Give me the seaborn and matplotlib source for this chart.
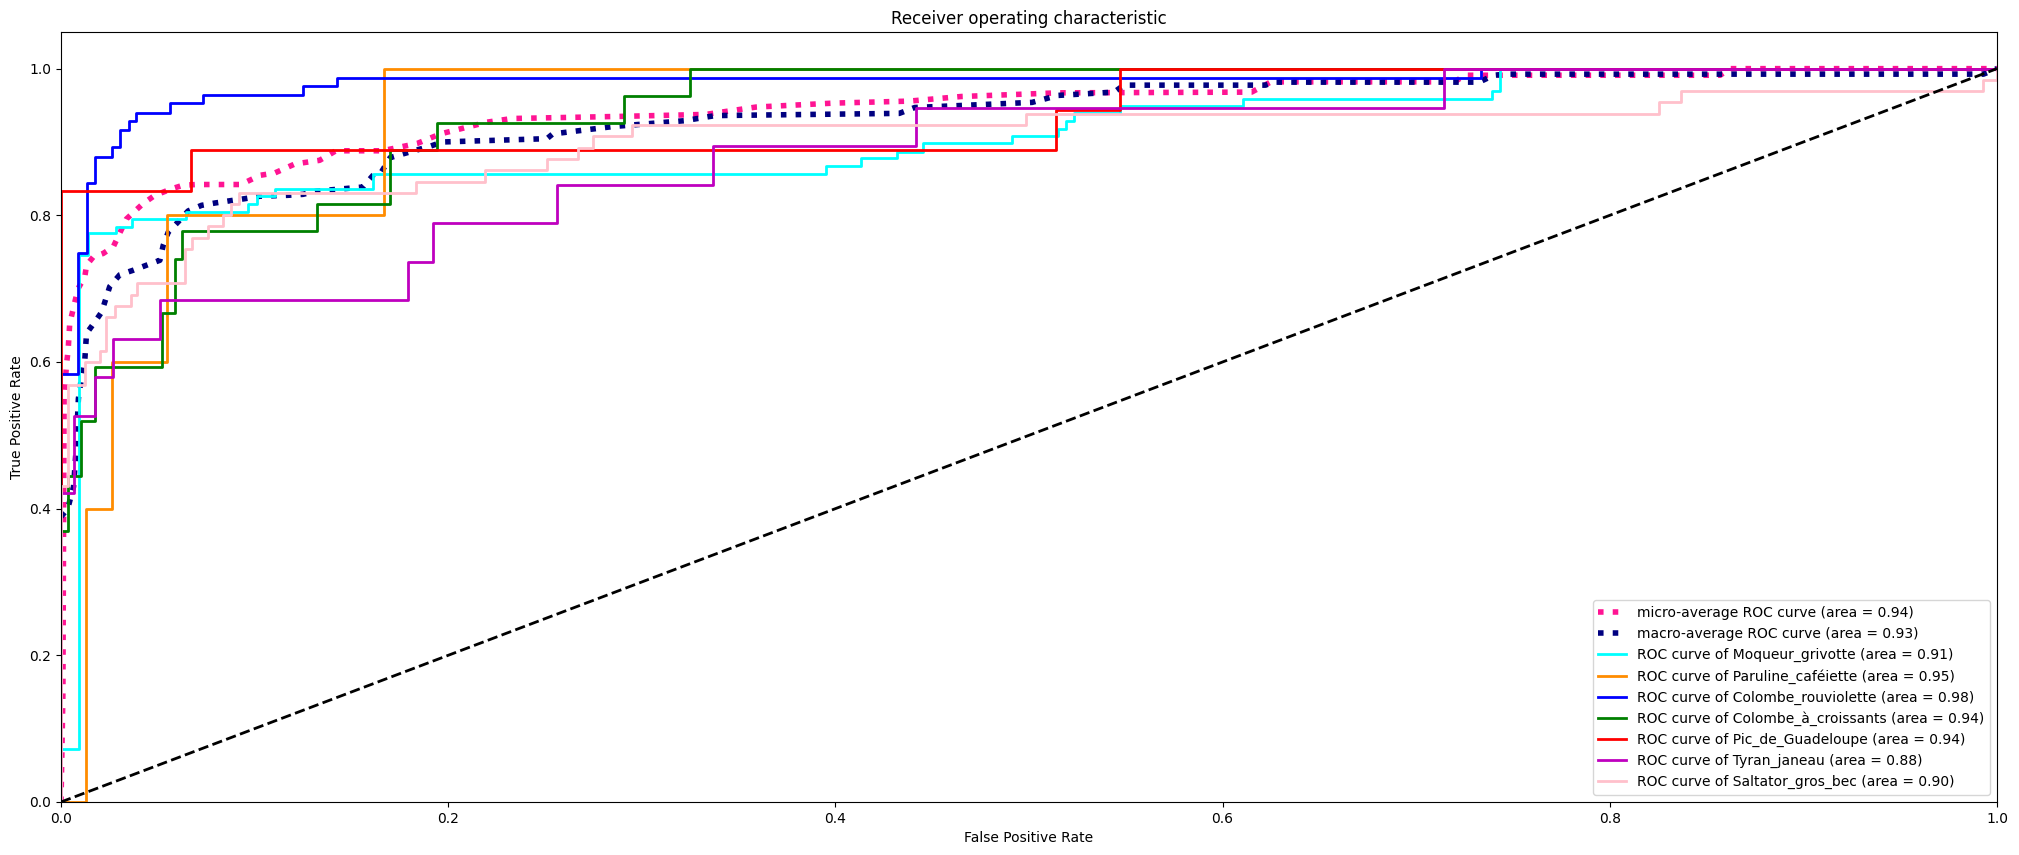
import matplotlib
matplotlib.use("Agg")
import matplotlib.pyplot as plt
import seaborn as sns

# averaged curves
micro_fpr = [0, 0.0005, 0.001, 0.0016, 0.0029, 0.0037, 0.0045, 0.0088, 0.0123, 0.0132, 0.0166,
             0.0218, 0.027, 0.0338, 0.0424, 0.0484, 0.057, 0.063, 0.070, 0.093, 0.1027, 0.1104,
             0.1208, 0.1336, 0.142, 0.166, 0.184, 0.196, 0.22, 0.233, 0.291, 0.333, 0.359, 0.399,
             0.438, 0.465, 0.515, 0.615, 0.625, 0.72, 0.725, 0.857, 0.862, 1.0]
micro_tpr = [0, 0.07, 0.15, 0.55, 0.598, 0.616, 0.652, 0.700, 0.716, 0.732, 0.743,
             0.748, 0.757, 0.795, 0.816, 0.827, 0.836, 0.841, 0.842, 0.842, 0.8545, 0.8577,
             0.870, 0.875, 0.888, 0.888, 0.898, 0.911, 0.927, 0.932, 0.935, 0.9376, 0.9476, 0.953,
             0.9557, 0.962, 0.967, 0.968, 0.982, 0.982, 0.991, 0.991, 1.0, 1.0]

macro_fpr = [0, 0.0035, 0.0065, 0.0078, 0.009, 0.0104, 0.0123, 0.0132, 0.0175, 0.021, 0.0252,
             0.0304, 0.0372, 0.0442, 0.0511, 0.0528, 0.0554, 0.0605, 0.0657, 0.0726, 0.0796,
             0.0864, 0.095, 0.1027, 0.1173, 0.125, 0.132, 0.156, 0.162, 0.1655, 0.17, 0.177,
             0.1905, 0.197, 0.251, 0.254, 0.285, 0.322, 0.338, 0.433, 0.441, 0.5016, 0.515,
             0.544, 0.549, 0.622, 0.627, 0.7325, 0.74, 0.747, 0.993, 1.0]
macro_tpr = [0.389, 0.40, 0.43, 0.48, 0.55, 0.575, 0.6024, 0.639, 0.6546, 0.668, 0.703,
             0.719, 0.725, 0.732, 0.7387, 0.759, 0.777, 0.791, 0.806, 0.8136, 0.8168,
             0.8195, 0.8227, 0.826, 0.8273, 0.8286, 0.833, 0.8386, 0.857, 0.859, 0.8786, 0.884,
             0.894, 0.900, 0.9045, 0.911, 0.921, 0.929, 0.936, 0.939, 0.947, 0.954, 0.9635,
             0.968, 0.9775, 0.9775, 0.9816, 0.9816, 0.991, 0.9925, 0.9925, 1.0]

# per-class step curves: tpr value holds from each fpr until the next one
class_names = ["Moqueur_grivotte", "Paruline_caféiette", "Colombe_rouviolette",
               "Colombe_à_croissants", "Pic_de_Guadeloupe", "Tyran_janeau", "Saltator_gros_bec"]
class_auc = [0.91, 0.95, 0.98, 0.94, 0.94, 0.88, 0.90]
class_colors = ["aqua", "darkorange", "blue", "green", "red", "m", "pink"]

fpr_grivotte = [0, 0, 0.0093, 0.014, 0.0283, 0.0369, 0.0648, 0.0966, 0.101, 0.1104, 0.161, 0.395,
                0.413, 0.432, 0.445, 0.491, 0.515, 0.519, 0.523, 0.547, 0.6105, 0.739, 0.7435, 1.0]
tpr_grivotte = [0, 0.072, 0.7456, 0.776, 0.784, 0.7955, 0.8045, 0.816, 0.826, 0.8354, 0.857, 0.867,
                0.878, 0.886, 0.898, 0.908, 0.918, 0.928, 0.939, 0.9485, 0.959, 0.969, 1.0, 1.0]

fpr_cafeiette = [0, 0.0131, 0.0261, 0.0548, 0.167, 1.0]
tpr_cafeiette = [0, 0.4, 0.6, 0.8, 1.0, 1.0]

fpr_rouviolette = [0, 0, 0.0088, 0.0132, 0.0177, 0.0261, 0.0306, 0.0349, 0.039, 0.0562, 0.0736,
                   0.125, 0.1426, 0.7333, 1.0]
tpr_rouviolette = [0, 0.584, 0.749, 0.844, 0.880, 0.8926, 0.9158, 0.928, 0.940, 0.9526, 0.9635,
                   0.9757, 0.9876, 1.0, 1.0]

fpr_croissants = [0, 0, 0.0035, 0.0101, 0.0178, 0.0522, 0.0588, 0.0625, 0.132, 0.170, 0.194,
                  0.291, 0.325, 1.0]
tpr_croissants = [0, 0.370, 0.444, 0.519, 0.593, 0.667, 0.741, 0.778, 0.815, 0.889, 0.926,
                  0.963, 1.0, 1.0]

fpr_pic = [0, 0, 0.0674, 0.514, 0.547, 1.0]
tpr_pic = [0, 0.833, 0.889, 0.944, 1.0, 1.0]

fpr_tyran = [0, 0, 0.0066, 0.0175, 0.0269, 0.051, 0.179, 0.192, 0.256, 0.337, 0.4416, 0.7143, 1.0]
tpr_tyran = [0, 0.421, 0.526, 0.579, 0.632, 0.684, 0.737, 0.789, 0.842, 0.895, 0.947, 1.0, 1.0]

fpr_saltator = [0, 0, 0.0035, 0.0123, 0.020, 0.0235, 0.0278, 0.0364, 0.0395, 0.0643, 0.0678, 0.076,
                0.0837, 0.0877, 0.092, 0.1836, 0.219, 0.251, 0.267, 0.275, 0.295, 0.4985, 0.8253,
                0.837, 0.993, 1.0]
tpr_saltator = [0, 0.431, 0.569, 0.600, 0.615, 0.662, 0.677, 0.692, 0.708, 0.754, 0.769, 0.785,
                0.800, 0.815, 0.831, 0.846, 0.862, 0.877, 0.892, 0.908, 0.923, 0.938, 0.954,
                0.969, 0.985, 1.0]

class_fpr = [fpr_grivotte, fpr_cafeiette, fpr_rouviolette, fpr_croissants, fpr_pic, fpr_tyran, fpr_saltator]
class_tpr = [tpr_grivotte, tpr_cafeiette, tpr_rouviolette, tpr_croissants, tpr_pic, tpr_tyran, tpr_saltator]

fig, ax = plt.subplots(figsize=(20.19, 8.55), dpi=100)
fig.subplots_adjust(left=0.0302, right=0.9891, bottom=0.062, top=0.9626)

sns.lineplot(x=micro_fpr, y=micro_tpr, ax=ax, sort=False, estimator=None,
             color="deeppink", linestyle=":", linewidth=4,
             label="micro-average ROC curve (area = 0.94)")
sns.lineplot(x=macro_fpr, y=macro_tpr, ax=ax, sort=False, estimator=None,
             color="navy", linestyle=":", linewidth=4,
             label="macro-average ROC curve (area = 0.93)")

for name, auc, col, f, t in zip(class_names, class_auc, class_colors, class_fpr, class_tpr):
    sns.lineplot(x=f, y=t, ax=ax, sort=False, estimator=None, color=col, linewidth=2,
                 drawstyle="steps-post", label=f"ROC curve of {name} (area = {auc:.2f})")

sns.lineplot(x=[0, 1], y=[0, 1], ax=ax, sort=False, estimator=None, color="k",
             linestyle="--", linewidth=2)

ax.set_xlim([0.0, 1.0])
ax.set_ylim([0.0, 1.05])
ax.set_xlabel("False Positive Rate")
ax.set_ylabel("True Positive Rate")
ax.set_title("Receiver operating characteristic")
ax.legend(loc="lower right")

fig.savefig("out.png", dpi=100)
